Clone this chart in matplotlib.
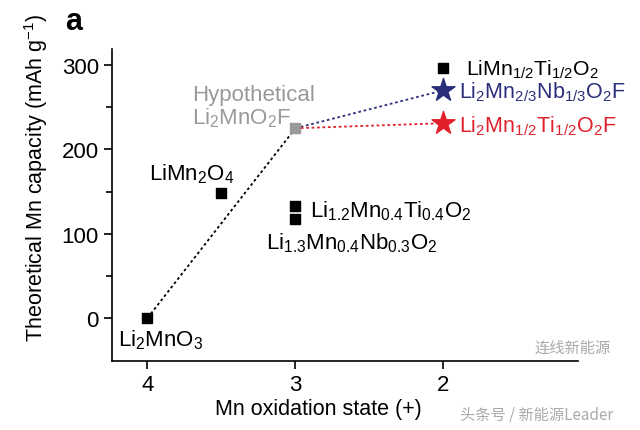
import matplotlib
matplotlib.use("Agg")
import matplotlib.pyplot as plt

plt.rcParams['font.family'] = ['Liberation Sans', 'DejaVu Sans']
plt.rcParams['mathtext.fontset'] = 'custom'
plt.rcParams['mathtext.rm'] = 'Liberation Sans'
plt.rcParams['mathtext.it'] = 'Liberation Sans'

# Data
black_x = [4.0, 3.5, 3.0, 3.0, 2.0]
black_y = [0, 148, 133, 117, 297]
black_names = [r'Li$_2$MnO$_3$', r'LiMn$_2$O$_4$', r'Li$_{1.2}$Mn$_{0.4}$Ti$_{0.4}$O$_2$',
               r'Li$_{1.3}$Mn$_{0.4}$Nb$_{0.3}$O$_2$', r'LiMn$_{1/2}$Ti$_{1/2}$O$_2$']
hypo_x, hypo_y = 3.0, 225
nb_x, nb_y = 2.0, 270
ti_x, ti_y = 2.0, 231

x_ticks = [4, 3, 2]
y_ticks = [0, 100, 200, 300]

fig = plt.figure(figsize=(6.4, 4.31), dpi=100)
ax = fig.add_axes([0.175, 0.160, 0.728, 0.724])

# Lines
ax.plot([black_x[0], hypo_x], [black_y[0], hypo_y], ls=(0, (1.5, 1.5)), color='black', lw=1.3, zorder=1)
ax.plot([hypo_x, nb_x], [hypo_y, nb_y], ls=(0, (1.5, 1.5)), color='#2b2f7a', lw=1.3, zorder=1)
ax.plot([hypo_x, ti_x], [hypo_y, ti_y], ls=(0, (1.5, 1.5)), color='#e0202a', lw=1.3, zorder=1)

# Markers
ax.scatter(black_x, black_y, marker='s', s=42, color='black', zorder=3)
ax.scatter([hypo_x], [hypo_y], marker='s', s=42, color='#999999', zorder=3)
ax.scatter([nb_x], [nb_y], marker='*', s=300, color='#2b2f7a', zorder=3)
ax.scatter([ti_x], [ti_y], marker='*', s=300, color='#e0202a', zorder=3)

fs = 16
ax.text(4.20, -25, black_names[0], ha='left', va='center', fontsize=fs)
ax.text(3.41, 172, black_names[1], ha='right', va='center', fontsize=fs)
ax.text(2.90, 128, black_names[2], ha='left', va='center', fontsize=fs)
ax.text(3.196, 90, black_names[3], ha='left', va='center', fontsize=fs)
ax.text(1.845, 296, black_names[4], ha='left', va='center', fontsize=15.3)
ax.text(1.893, 269, r'Li$_2$Mn$_{2/3}$Nb$_{1/3}$O$_2$F', ha='left', va='center', fontsize=15.5, color='#2b2f7a')
ax.text(1.893, 229, r'Li$_2$Mn$_{1/2}$Ti$_{1/2}$O$_2$F', ha='left', va='center', fontsize=15.5, color='#e0202a')
ax.text(3.70, 265, 'Hypothetical', ha='left', va='center', fontsize=fs, color='#999999')
ax.text(3.70, 238, r'Li$_2$MnO$_2$F', ha='left', va='center', fontsize=fs, color='#999999')

ax.set_xlim(4.24, 1.09)
ax.set_ylim(-51, 319)
ax.set_xticks(x_ticks)
ax.set_xticklabels([str(t) for t in x_ticks])
ax.set_yticks(y_ticks)
ax.set_yticks([50, 150, 250], minor=True)
ax.tick_params(axis='both', which='major', labelsize=16, length=6, width=1.2, direction='out')
ax.tick_params(axis='y', which='minor', length=4, width=1.2, direction='out')
for s in ['top', 'right']:
    ax.spines[s].set_visible(False)
for s in ['left', 'bottom']:
    ax.spines[s].set_linewidth(1.2)

ax.set_xlabel('Mn oxidation state (+)', fontsize=15.5)
ax.xaxis.set_label_coords(0.444, -0.12)
ax.set_ylabel(r'Theoretical Mn capacity (mAh g$^{-1}$)', fontsize=15.5)
ax.yaxis.set_label_coords(-0.133, 0.59)

fig.text(0.102, 0.950, 'a', fontsize=22, fontweight='bold', ha='left', va='center')

# Watermark
wm_fam = ['Noto Sans CJK SC', 'DejaVu Sans']
fig.text(0.955, 0.192, '连线新能源', fontsize=11, color='#aaaaaa', ha='right', va='center', family=wm_fam)
fig.text(0.958, 0.038, '头条号 / 新能源Leader', fontsize=11, color='#aaaaaa', ha='right', va='center', family=wm_fam)

fig.savefig('out.png', dpi=100)
